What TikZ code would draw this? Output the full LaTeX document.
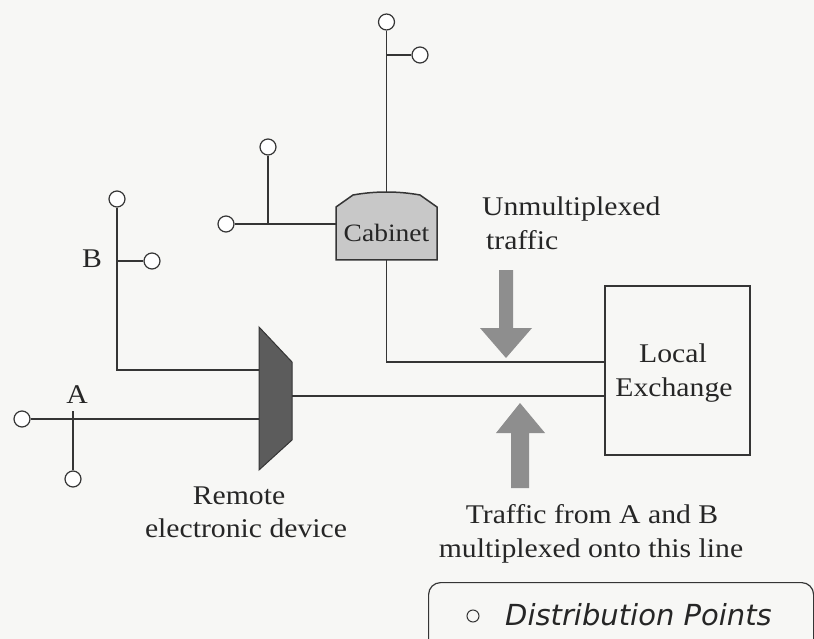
\documentclass[tikz,border=0pt]{standalone}
\usepackage{fontspec}
\setmainfont{Liberation Serif}[FakeStretch=1.1]
\newfontfamily\legendfont{DejaVu Sans}
\definecolor{ink}{HTML}{353535}
\definecolor{textink}{HTML}{262626}
\definecolor{paper}{HTML}{F7F7F5}
\definecolor{cabgray}{HTML}{C8C8C8}
\definecolor{devgray}{HTML}{5C5C5C}
\definecolor{arrowgray}{HTML}{8E8E8E}
\begin{document}
\begin{tikzpicture}[x=1pt,y=-1pt,
  line/.style={draw=ink, line width=1.6pt},
  dp/.style={circle, draw=ink, line width=1.2pt, fill=white, minimum size=16pt, inner sep=0pt},
  lbl/.style={font=\fontsize{27}{34}\selectfont, text=textink, inner sep=0pt},
  blockarrow/.style={fill=arrowgray, draw=none}]
\useasboundingbox (0,0) rectangle (814,639);
\fill[paper] (0,0) rectangle (814,639);

% Cabinet
\fill[cabgray, draw=ink, line width=1.5pt] (336,260) -- (336,207) -- (353,195)
  .. controls (375,191) and (398,191) .. (420,195) -- (437,207) -- (437,260) -- cycle;
\node[inner sep=0pt, minimum width=101pt, minimum height=67pt] (cab) at (386.5,226.5) {};
\node[lbl, font=\fontsize{25}{30}\selectfont, anchor=base] (cabt) at (386.5,242) {Cabinet};

% Local exchange
\node[draw=ink, line width=1.5pt, minimum width=145pt, minimum height=169pt, inner sep=0pt] (ex) at (677.5,370.5) {};
\node[lbl, anchor=base] (loc) at (673,362) {Local};
\node[lbl, anchor=base] (exc) at (674,396) {Exchange};

% Remote device
\coordinate (dtl) at (259,327);
\coordinate (dtr) at (292,362);
\coordinate (dbr) at (292,440);
\coordinate (dbl) at (259,470);
\fill[devgray, draw=ink, line width=1pt] (dtl) -- (dtr) -- (dbr) -- (dbl) -- cycle;
\coordinate (bin) at (259,370);
\coordinate (ain) at (259,419);
\coordinate (dout) at (292,396);

% Distribution points
\node[dp] (c1) at (386.5,22) {};
\node[dp] (c2) at (420,55) {};
\node[dp] (c3) at (226,224) {};
\node[dp] (c4) at (268,147) {};
\node[dp] (c5) at (117,199) {};
\node[dp] (c6) at (152,261) {};
\node[dp] (c7) at (22,419) {};
\node[dp] (c8) at (73,479) {};

% junctions
\coordinate (j1) at (386.5,55);
\coordinate (j2) at (268,224);
\coordinate (j3) at (117,261);
\coordinate (ja) at (73,411);
\coordinate (u1) at (386.5,362);

% Lines
\draw[line] (c1) -- (cab.north);
\draw[line] (j1) -- (c2);
\draw[line] (c3) -- (c3 -| cab.west);
\draw[line] (j2) -- (c4);
\draw[line] (cab.south) -- (u1) -- (ex.west |- u1);
\draw[line] (c5) |- (bin);
\draw[line] (j3) -- (c6);
\draw[line] (c7) -- (ain);
\draw[line] (ja) -- (c8);
\draw[line] (dout) -- (ex.west |- dout);

% Block arrows
\fill[blockarrow] (499,270) -- (513,270) -- (513,328) -- (532,328) -- (506,358)
  -- (480,328) -- (499,328) -- cycle;
\fill[blockarrow] (511,488) -- (529,488) -- (529,433) -- (545,433) -- (520,403)
  -- (496,433) -- (511,433) -- cycle;

% Labels
\node[lbl, anchor=base west] (unm) at (482,216) {Unmultiplexed};
\node[lbl, anchor=base west] (trf) at (486,250) {traffic};
\node[lbl, anchor=base] (tfa) at (592,523) {Traffic from A and B};
\node[lbl, anchor=base] (mux) at (591,557) {multiplexed onto this line};
\node[lbl, anchor=base] (rem) at (239,504) {Remote};
\node[lbl, anchor=base] (eld) at (246,537) {electronic device};
\node[lbl, anchor=base] (lb) at (92,267) {B};
\node[lbl, anchor=base] (la) at (77,403) {A};

% Legend
\begin{scope}
\clip (0,0) rectangle (814,639);
\node[draw=ink, line width=1.2pt, rounded corners=12pt, minimum width=385pt,
  minimum height=90pt, inner sep=0pt, anchor=north west] (leg) at (428,582) {};
\end{scope}
\node[circle, draw=ink, line width=1pt, minimum size=12pt, inner sep=0pt] (lc) at (473,616) {};
\node[anchor=base west, inner sep=0pt, text=textink, font=\legendfont\itshape\fontsize{29}{34}\selectfont] (lt) at (505,625) {Distribution Points};
\end{tikzpicture}
\end{document}
